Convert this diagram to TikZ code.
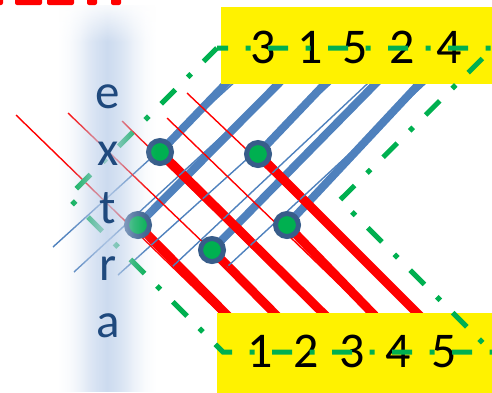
\documentclass[tikz,border=0pt]{standalone}
\usepackage{fontspec}
\setmainfont{Carlito}
\usetikzlibrary{fadings}
\definecolor{lineblue}{RGB}{79,129,189}
\definecolor{ringblue}{RGB}{56,93,138}
\definecolor{dotgreen}{RGB}{0,176,80}
\definecolor{textnavy}{RGB}{31,73,125}
\definecolor{bandblue}{RGB}{192,210,235}
\tikzfading[name=bandglow, left color=transparent!100, right color=transparent!100, middle color=transparent!58]
\begin{document}
\begin{tikzpicture}[x=1pt, y=-1pt,
	thickblue/.style={draw=lineblue, line width=8pt},
	thickred/.style={draw=red, line width=9pt},
	thinblue/.style={draw=lineblue, line width=1.4pt},
	thinred/.style={draw=red, line width=1.4pt},
	crossdot/.style={draw=ringblue, fill=dotgreen, line width=5pt},
	chevron/.style={draw=dotgreen, line width=5pt, dash pattern={on 20pt off 17.5pt on 5pt off 17.5pt}},
	bandlayer/.style={fill=bandblue, path fading=bandglow},
	digit/.style={anchor=base, inner sep=0pt, font=\fontsize{50}{60}\selectfont},
	letter/.style={anchor=base, inner sep=0pt, text=textnavy, font=\fontsize{49}{59}\selectfont}]
	\useasboundingbox (0, 0) rectangle (492, 392);
	\clip (0, 0) rectangle (492, 392);
	\coordinate (d1) at (138, 225);
	\coordinate (d2) at (212, 250);
	\coordinate (d3) at (160, 152);
	\coordinate (d4) at (287, 225);
	\coordinate (d5) at (258, 154);
	\coordinate (up1) at (292, 70);
	\coordinate (up2) at (389, 70);
	\coordinate (up3) at (239, 70);
	\coordinate (up4) at (432, 70);
	\coordinate (up5) at (338, 70);
	\coordinate (dn1) at (232, 320);
	\coordinate (dn2) at (281, 320);
	\coordinate (dn3) at (330, 320);
	\coordinate (dn4) at (379, 320);
	\coordinate (dn5) at (424, 320);
	\draw[thickblue] (d1) -- (up1);
	\draw[thickblue] (d2) -- (up2);
	\draw[thickblue] (d3) -- (up3);
	\draw[thickblue] (d4) -- (up4);
	\draw[thickblue] (d5) -- (up5);
	\draw[thickred] (d1) -- (dn1);
	\draw[thickred] (d2) -- (dn2);
	\draw[thickred] (d3) -- (dn3);
	\draw[thickred] (d4) -- (dn4);
	\draw[thickred] (d5) -- (dn5);
	\draw[thinblue] (74, 272) -- (294, 70);
	\draw[thinblue] (172, 267) -- (382, 70);
	\draw[thinblue] (53, 247) -- (248, 70);
	\draw[thinblue] (227, 267) -- (440, 70);
	\draw[thinblue] (118, 275) -- (346, 70);
	\draw[thinred] (16, 115) -- (227, 320);
	\draw[thinred] (68, 113) -- (284, 320);
	\draw[thinred] (122, 121) -- (326, 320);
	\draw[thinred] (167, 118) -- (376, 320);
	\draw[thinred] (187, 93) -- (426, 320);
	\draw[crossdot] (d1) circle (11.5pt);
	\draw[crossdot] (d2) circle (11.5pt);
	\draw[crossdot] (d3) circle (11.5pt);
	\draw[crossdot] (d4) circle (11.5pt);
	\draw[crossdot] (d5) circle (11.5pt);
	\fill[yellow] (221, 7) rectangle (500, 84);
	\fill[yellow] (217, 313) rectangle (500, 400);
	\node[digit] (top3) at (263, 63) {3};
	\node[digit] (top1) at (310, 63) {1};
	\node[digit] (top5) at (355, 63) {5};
	\node[digit] (top2) at (402, 63) {2};
	\node[digit] (top4) at (449, 63) {4};
	\node[digit] (bot1) at (260, 367) {1};
	\node[digit] (bot2) at (306, 367) {2};
	\node[digit] (bot3) at (352, 367) {3};
	\node[digit] (bot4) at (398, 367) {4};
	\node[digit] (bot5) at (444, 367) {5};
	\draw[chevron, dash phase=1pt] (217, 48) -- (68, 197) -- (223, 352) -- (500, 352);
	\draw[chevron, dash phase=9pt] (217, 48) -- (493, 48) -- (340, 200) -- (500, 360);
	\path[bandlayer] (58, 5) rectangle (156, 392);
	\path[bandlayer] (70, 5) rectangle (145, 392);
	\path[bandlayer] (80, 5) rectangle (134, 392);
	\fill[white, path fading=south] (50, -1) rectangle (170, 42);
	\node[letter] (le) at (108, 108) {e};
	\node[letter] (lx) at (108, 165) {x};
	\node[letter] (lt) at (108, 223) {t};
	\node[letter] (lr) at (108, 280) {r};
	\node[letter] (la) at (108, 337) {a};
	\fill[red, rounded corners=2pt] (-5, -10) rectangle (3, 5);
	\fill[red, rounded corners=2pt] (15, -10) rectangle (42, 5);
	\fill[red, rounded corners=2pt] (47, -10) rectangle (74, 5);
	\fill[red, rounded corners=2pt] (87, -10) rectangle (97, 5);
	\fill[red, rounded corners=2pt] (111, -10) rectangle (121, 5);
\end{tikzpicture}
\end{document}
